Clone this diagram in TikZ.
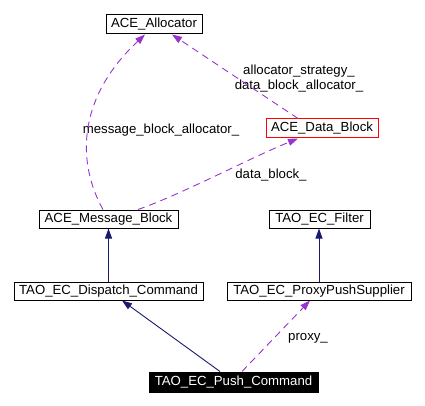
\documentclass[tikz,border=0pt]{standalone}
\usepackage{fontspec}
\setmainfont{Liberation Sans}
\usetikzlibrary{arrows.meta}
\definecolor{edgepurple}{HTML}{9A32CD}
\definecolor{edgenavy}{HTML}{191970}
\tikzset{
  cls/.style={draw=black, line width=1pt, inner sep=0pt, minimum height=18pt, font=\fontsize{13.2}{14}\selectfont},
  lbl/.style={inner sep=0pt, font=\fontsize{13.2}{14}\selectfont},
  usedep/.style={draw=edgepurple, line width=0.9pt, dash pattern=on 7pt off 5pt, -{Triangle[length=10pt,width=7pt,fill=edgepurple]}},
  inherit/.style={draw=edgenavy, line width=0.9pt, -{Triangle[length=10pt,width=7pt,fill=edgenavy]}}
}
\begin{document}
\begin{tikzpicture}[x=1pt,y=1pt]
\useasboundingbox (0,0) rectangle (425,-406);
\node[cls, minimum width=96pt, minimum height=19pt] (alloc) at (154,-24.5) {ACE\_Allocator};
\node[cls, draw=red, minimum width=112pt, minimum height=19pt] (db) at (322,-128.5) {ACE\_Data\_Block};
\node[cls, minimum width=139pt] (msg) at (108.5,-219) {ACE\_Message\_Block};
\node[cls, minimum width=101pt] (filt) at (319.5,-219) {TAO\_EC\_Filter};
\node[cls, minimum width=189pt] (disp) at (108.5,-291) {TAO\_EC\_Dispatch\_Command};
\node[cls, minimum width=184pt] (proxy) at (319,-291) {TAO\_EC\_ProxyPushSupplier};
\node[cls, fill=black, text=white, minimum width=169pt, minimum height=20pt] (push) at (233.5,-382) {TAO\_EC\_Push\_Command};

\node[lbl] (l1) at (161,-130) {message\_block\_allocator\_};
\node[lbl] (l2) at (299,-71) {allocator\_strategy\_};
\node[lbl] (l3) at (299,-86) {data\_block\_allocator\_};
\node[lbl] (l4) at (271,-175) {data\_block\_};
\node[lbl] (l5) at (308,-338) {proxy\_};

\draw[usedep] ([xshift=-5.5pt]msg.north) .. controls (78,-165) and (75,-100) .. ([xshift=-9pt]alloc.south);
\draw[usedep] ([xshift=-24pt]db.north) -- ([xshift=18pt]alloc.south);
\draw[usedep] ([xshift=29.5pt]msg.north) .. controls (180,-195) and (250,-158) .. ([xshift=-24pt]db.south);
\draw[inherit] (disp.north) -- (msg.south);
\draw[inherit] (proxy.north) -- (proxy.north |- filt.south);
\draw[inherit] ([xshift=-13.5pt]push.north) -- ([xshift=13.5pt]disp.south);
\draw[usedep] ([xshift=8.5pt]push.north) -- ([xshift=-9pt]proxy.south);
\end{tikzpicture}
\end{document}
